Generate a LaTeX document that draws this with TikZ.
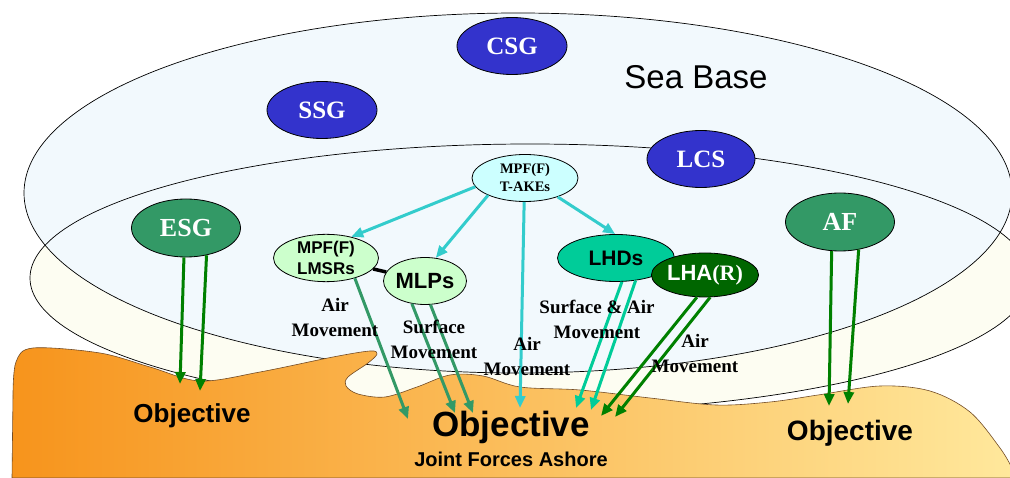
\documentclass[tikz,border=0pt]{standalone}
\usepackage{fontspec}
\setmainfont{Liberation Serif}
\setsansfont{Liberation Sans}
\usetikzlibrary{shapes.geometric,arrows.meta}
\definecolor{shipblue}{RGB}{51,51,204}
\definecolor{escortgreen}{RGB}{51,153,102}
\definecolor{liftaqua}{RGB}{51,204,204}
\definecolor{lhdgreen}{RGB}{0,204,153}
\definecolor{lhagreen}{RGB}{0,102,0}
\definecolor{movegreen}{RGB}{0,128,0}
\definecolor{paleaqua}{RGB}{204,255,255}
\definecolor{palegreen}{RGB}{204,255,204}
\definecolor{seafill}{RGB}{242,249,253}
\definecolor{shorefill}{RGB}{253,253,242}
\definecolor{landleft}{RGB}{247,148,28}
\definecolor{landright}{RGB}{255,232,156}
\newcommand\fsz[2]{\fontsize{#1}{#2}\selectfont}

\begin{document}
\begin{tikzpicture}[x=1pt,y=-1pt,
  ship/.style={ellipse,draw=black,line width=0.8pt,inner sep=0pt,align=center},
  group/.style={ship,fill=shipblue,text=white,minimum width=110,minimum height=57,font=\fsz{25}{30}\bfseries},
  escort/.style={ship,fill=escortgreen,text=white,minimum width=109,minimum height=58,font=\fsz{26}{30}\bfseries},
  prepo/.style={ship,fill=palegreen,font=\sffamily\bfseries},
  movetext/.style={align=center,font=\fsz{19}{25}\bfseries},
  goal/.style={font=\sffamily\bfseries\fsz{#1}{#1}},
  lift/.style={line width=3pt,-{Triangle[length=12pt,width=10pt]}}]

  \useasboundingbox (0,0) rectangle (1010,478);

  \fill[shorefill] (530,278) ellipse [x radius=500,y radius=134];
  \fill[seafill] (518,193) ellipse [x radius=494,y radius=180];
  \draw[line width=0.7pt] (530,278) ellipse [x radius=500,y radius=134];
  \draw[line width=0.7pt] (518,193) ellipse [x radius=494,y radius=180];

  \shade[left color=landleft,right color=landright,draw=brown!60!black,line width=0.6pt]
    (12,478) -- (13,395) -- plot[smooth,tension=0.55] coordinates {(13,395) (16,362) (33,348)
      (100,353) (150,367) (200,381) (260,372) (333,357) (370,351) (377,354) (368,363)
      (348,377) (346,386) (358,394) (385,397) (417,387) (450,375) (483,376) (520,387)
      (580,390) (650,398) (716,405) (770,402) (818,395) (880,386) (930,391) (970,412)
      (1000,448) (1012,468)} -- (1012,478) -- cycle;

  \node[font=\sffamily\fsz{33}{33}] (seabase) at (696,77) {Sea Base};

  \node[group] (csg) at (512,46) {CSG};
  \node[group] (ssg) at (322,110) {SSG};
  \node[group,minimum width=108] (lcs) at (701,159) {LCS};
  \node[escort] (esg) at (186,228) {ESG};
  \node[escort] (af) at (840,222) {AF};
  \node[ship,fill=paleaqua,minimum width=106,minimum height=47,font=\fsz{14.5}{18}\bfseries]
    (takes) at (525,178) {MPF(F)\\T-AKEs};
  \node[prepo,minimum width=105,minimum height=45,font=\sffamily\bfseries\fsz{17}{21}]
    (lmsr) at (326,258) {MPF(F)\\LMSRs};
  \node[prepo,minimum width=77,minimum height=47,font=\sffamily\bfseries\fsz{22}{22}]
    (mlp) at (425,281) {MLPs};
  \node[ship,fill=lhdgreen,minimum width=117,minimum height=47,font=\sffamily\bfseries\fsz{21}{21}]
    (lhd) at (616,258) {LHDs};
  \node[ship,fill=lhagreen,text=white,minimum width=105,minimum height=44,font=\sffamily\bfseries\fsz{22}{22}]
    (lha) at (705,275) {LHA\textrm{(R)}};

  \draw[line width=3.5pt] (lmsr) -- (mlp);

  \coordinate (esgA) at (180,384);
  \coordinate (esgB) at (200,391);
  \coordinate (afA) at (829,406);
  \coordinate (afB) at (848,404);
  \coordinate (lmsrA) at (408,419);
  \coordinate (mlpA) at (455,413);
  \coordinate (mlpB) at (473,413);
  \coordinate (takesA) at (520,408);
  \coordinate (lhdA) at (576,408);
  \coordinate (lhdB) at (591,410);
  \coordinate (lhaA) at (601,416);
  \coordinate (lhaB) at (615,417);

  \draw[lift,liftaqua] (takes.190) -- (lmsr.40);
  \draw[lift,liftaqua] (takes.205) -- (mlp.65);
  \draw[lift,liftaqua] (takes.268) -- (takesA);
  \draw[lift,liftaqua] (takes.330) -- (lhd.92);

  \draw[lift,escortgreen] (lmsr.325) -- (lmsrA);
  \draw[lift,escortgreen] (mlp.240) -- (mlpA);
  \draw[lift,escortgreen] (mlp.283) -- (mlpB);
  \draw[lift,lhdgreen] (lhd.284) -- (lhdA);
  \draw[lift,lhdgreen] (lhd.311) -- (lhdB);
  \draw[lift,movegreen] (lha.250) -- (lhaA);
  \draw[lift,movegreen] (lha.283) -- (lhaB);
  \draw[lift,movegreen] (esg.266) -- (esgA);
  \draw[lift,movegreen] (esg.307) -- (esgB);
  \draw[lift,movegreen] (af.254) -- (afA);
  \draw[lift,movegreen] (af.304) -- (afB);

  \node[movetext] (airL) at (335,318) {Air\\Movement};
  \node[movetext] (surf) at (434,339) {Surface\\Movement};
  \node[movetext] (airC) at (527,357) {Air\\Movement};
  \node[movetext] (surfair) at (597,319) {Surface \& Air\\Movement};
  \node[movetext] (airR) at (695,354) {Air\\Movement};

  \node[goal=26] (objL) at (192,416) {Objective};
  \node[goal=35] (objC) at (511,427) {Objective};
  \node[goal=20] (ashore) at (511,459) {Joint Forces Ashore};
  \node[goal=28] (objR) at (850,433) {Objective};
\end{tikzpicture}
\end{document}
